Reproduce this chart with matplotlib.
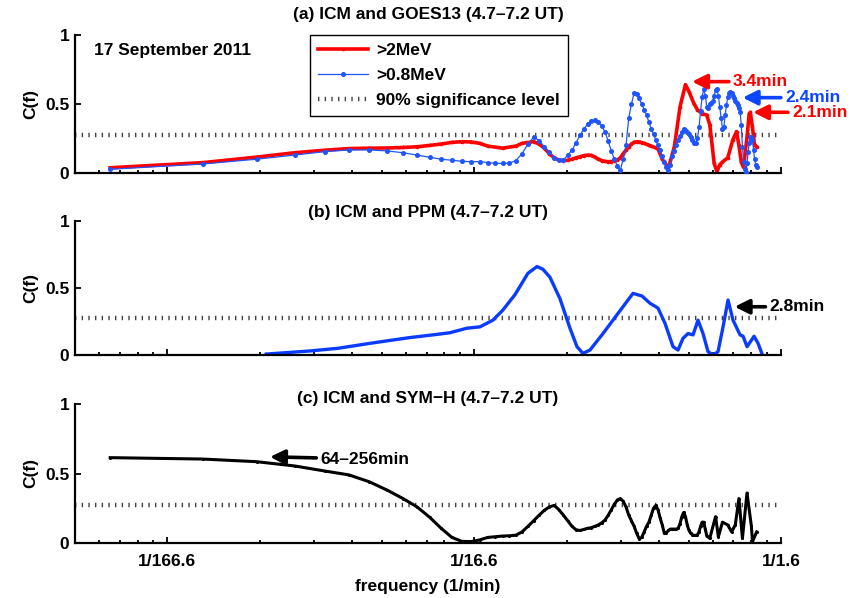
import matplotlib
matplotlib.use('Agg')
import matplotlib.pyplot as plt
from matplotlib.ticker import FixedLocator, FixedFormatter, LogLocator, NullFormatter
import numpy as np

plt.rcParams['font.family'] = ['Liberation Sans', 'DejaVu Sans']
plt.rcParams['font.weight'] = 'bold'
plt.rcParams['font.size'] = 12.5
plt.rcParams['lines.scale_dashes'] = False

# spectral bin width for GOES13 / SYM-H coherence (256-min window), Hz
DF_HZ = 1.0 / (256 * 60)

# ---------------- (a) ICM and GOES13 ----------------
a_red_bin = [1, 2, 3, 4, 5, 6, 7, 8, 9, 10, 11, 12, 13, 14, 15, 16, 17, 19, 21, 22,
             24, 25, 26, 27, 28, 29, 30, 31, 32, 33, 34, 35, 36, 37, 38, 39, 40, 41, 42, 43,
             44, 45, 46, 47, 48, 49, 50, 51, 52, 53, 54, 55, 56, 57, 58, 61, 63, 66, 69, 72,
             75, 77, 80, 82, 85, 88, 90, 91, 93, 95, 97, 99, 103, 107, 110, 112, 114, 116, 119, 121,
             122, 124, 126, 128]
a_red_c = [0.038, 0.075, 0.115, 0.147, 0.165, 0.177, 0.18, 0.181, 0.185, 0.19,
           0.2, 0.21, 0.222, 0.227, 0.225, 0.215, 0.195, 0.18, 0.195, 0.215,
           0.227, 0.21, 0.18, 0.14, 0.11, 0.094, 0.09, 0.092, 0.1, 0.11,
           0.118, 0.126, 0.13, 0.127, 0.116, 0.1, 0.09, 0.084, 0.082, 0.083,
           0.088, 0.095, 0.11, 0.14, 0.165, 0.19, 0.21, 0.222, 0.227, 0.226,
           0.22, 0.215, 0.208, 0.2, 0.195, 0.175, 0.1, 0.036, 0.19, 0.48,
           0.64, 0.59, 0.5, 0.46, 0.43, 0.42, 0.35, 0.26, 0.07, 0.01,
           0.06, 0.08, 0.11, 0.24, 0.3, 0.2, 0.08, 0.04, 0.26, 0.43,
           0.44, 0.33, 0.2, 0.19]

a_blue_bin = [1, 2, 3, 4, 5, 6, 7, 8, 9, 10, 11, 12, 13, 14, 15, 16, 17, 18, 19, 20,
              21, 22, 23, 24, 25, 26, 27, 28, 29, 30, 31, 32, 33, 34, 35, 36, 37, 38, 39, 40,
              41, 42, 43, 44, 45, 46, 47, 48, 49, 50, 51, 52, 53, 54, 55, 56, 57, 58, 59, 60,
              61, 62, 63, 64, 65, 66, 67, 68, 69, 70, 71, 72, 73, 74, 75, 76, 77, 78, 79, 80,
              81, 82, 83, 84, 85, 86, 87, 88, 89, 90, 91, 92, 93, 94, 95, 96, 97, 98, 99, 100,
              101, 102, 103, 104, 105, 106, 107, 108, 109, 110, 111, 112, 113, 114, 115, 116, 117, 118, 119, 120,
              121, 122, 123, 124, 125, 126, 127, 128]
a_blue_c = [0.027, 0.065, 0.10, 0.13, 0.155, 0.167, 0.167, 0.16, 0.147, 0.13,
            0.114, 0.10, 0.092, 0.085, 0.082, 0.082, 0.076, 0.07, 0.07, 0.072,
            0.09, 0.14, 0.21, 0.26, 0.235, 0.19, 0.15, 0.11, 0.094, 0.094,
            0.13, 0.165, 0.22, 0.275, 0.32, 0.355, 0.38, 0.385, 0.37, 0.34,
            0.30, 0.23, 0.16, 0.10, 0.05, 0.022, 0.10, 0.20, 0.40, 0.50,
            0.58, 0.57, 0.54, 0.50, 0.46, 0.42, 0.37, 0.32, 0.28, 0.24,
            0.20, 0.167, 0.12, 0.08, 0.045, 0.022, 0.06, 0.12, 0.16, 0.2,
            0.24, 0.27, 0.30, 0.32, 0.315, 0.30, 0.28, 0.26, 0.24, 0.215,
            0.22, 0.25, 0.33, 0.45, 0.55, 0.61, 0.56, 0.48, 0.47, 0.5,
            0.51, 0.52, 0.56, 0.6, 0.61, 0.56, 0.48, 0.4, 0.32, 0.33,
            0.42, 0.49, 0.55, 0.58, 0.59, 0.58, 0.56, 0.54, 0.52, 0.51,
            0.49, 0.47, 0.44, 0.35, 0.19, 0.08, 0.03, 0.005, 0.07, 0.15,
            0.22, 0.26, 0.26, 0.24, 0.17, 0.1, 0.06, 0.04]

# ---------------- (b) ICM and PPM ----------------
b_freq_mhz = [0.210, 0.291, 0.360, 0.457, 0.617, 0.733, 0.833, 0.947, 1.044, 1.151,
              1.241, 1.358, 1.497, 1.602, 1.675, 1.766, 1.904, 2.052, 2.163, 2.262,
              2.385, 2.629, 2.920, 3.293, 3.524, 3.742, 3.973, 4.188, 4.447, 4.617,
              4.794, 4.977, 5.168, 5.365, 5.570, 5.783, 6.005, 6.234, 6.473, 6.720,
              6.977, 7.355, 7.522, 7.751, 8.169, 8.419, 8.675]
b_c = [0.007, 0.03, 0.05, 0.087, 0.13, 0.15, 0.166, 0.2, 0.21, 0.26,
       0.336, 0.45, 0.61, 0.66, 0.64, 0.58, 0.42, 0.2, 0.062, 0.012,
       0.037, 0.16, 0.3, 0.46, 0.44, 0.386, 0.35, 0.236, 0.062, 0.037,
       0.125, 0.16, 0.15, 0.26, 0.16, 0.025, 0.0, 0.025, 0.21, 0.41,
       0.26, 0.15, 0.14, 0.062, 0.14, 0.087, 0.007]

# ---------------- (c) ICM and SYM-H ----------------
c_bin = [1, 2, 3, 4, 5, 6, 7, 8, 9, 10, 11, 12, 13, 14, 15, 16, 17, 18, 19, 20,
         21, 22, 23, 24, 25, 26, 27, 28, 29, 30, 31, 32, 33, 34, 35, 36, 37, 38, 39, 40,
         41, 42, 43, 44, 45, 46, 47, 48, 49, 50, 51, 52, 53, 54, 55, 56, 57, 58, 59, 60,
         61, 62, 63, 64, 65, 66, 67, 68, 69, 70, 71, 72, 73, 74, 75, 76, 77, 78, 79, 80,
         81, 82, 83, 84, 85, 86, 87, 88, 90, 94, 96, 99, 103, 106, 109, 112, 115, 119, 123, 124,
         128]
c_c = [0.614, 0.604, 0.585, 0.554, 0.518, 0.49, 0.44, 0.38, 0.32, 0.26,
       0.185, 0.105, 0.04, 0.012, 0.01, 0.022, 0.04, 0.045, 0.05, 0.052,
       0.056, 0.08, 0.12, 0.16, 0.2, 0.235, 0.26, 0.27, 0.24, 0.2,
       0.16, 0.12, 0.095, 0.09, 0.098, 0.106, 0.11, 0.12, 0.13, 0.145,
       0.165, 0.2, 0.24, 0.28, 0.31, 0.32, 0.3, 0.26, 0.2, 0.16,
       0.12, 0.07, 0.03, 0.04, 0.08, 0.12, 0.15, 0.2, 0.25, 0.27,
       0.24, 0.18, 0.13, 0.07, 0.075, 0.09, 0.1, 0.1, 0.1, 0.1,
       0.106, 0.14, 0.19, 0.22, 0.19, 0.13, 0.09, 0.07, 0.06, 0.055,
       0.055, 0.058, 0.08, 0.12, 0.15, 0.15, 0.1, 0.05, 0.034, 0.19,
       0.045, 0.15, 0.13, 0.08, 0.13, 0.32, 0.034, 0.36, 0.12, 0.01,
       0.08]

SIG_LEVEL = 0.275
XLIM_HZ = (5e-5, 1e-2)
xtick_hz = [1e-4, 1e-3, 1e-2]
xtick_labels = ['1/166.6', '1/16.6', '1/1.6']
ytick_vals = [0, 0.5, 1]
ytick_labels = ['0', '0.5', '1']

titles = ['(a) ICM and GOES13 (4.7\u20137.2 UT)',
          '(b) ICM and PPM (4.7\u20137.2 UT)',
          '(c) ICM and SYM\u2212H (4.7\u20137.2 UT)']

RED = '#ff0000'
BLUE_A = '#1f55ff'
BLUE_B = '#0a3cff'
SIG_COLOR = '#444444'
SIG_STYLE = (0, (1.0, 3.8))

W, H = 852, 598
fig = plt.figure(figsize=(W / 100, H / 100), dpi=100)

def px_axes(x0, x1, y_top, y_bot):
    return fig.add_axes([x0 / W, 1 - y_bot / H, (x1 - x0) / W, (y_bot - y_top) / H])

ax_a = px_axes(75, 781, 35, 173)
ax_b = px_axes(75, 781, 221, 355)
ax_c = px_axes(75, 781, 404, 543)

sig_lines = []
for ax in (ax_a, ax_b, ax_c):
    ax.set_xscale('log')
    ax.set_xlim(*XLIM_HZ)
    ax.set_ylim(0, 1)
    ax.xaxis.set_major_locator(FixedLocator(xtick_hz))
    ax.xaxis.set_major_formatter(FixedFormatter(xtick_labels))
    ax.xaxis.set_minor_locator(LogLocator(base=10, subs=np.arange(2, 10), numticks=20))
    ax.xaxis.set_minor_formatter(NullFormatter())
    ax.yaxis.set_major_locator(FixedLocator(ytick_vals))
    ax.yaxis.set_major_formatter(FixedFormatter(ytick_labels))
    for s in ('top', 'right'):
        ax.spines[s].set_visible(False)
    for s in ('left', 'bottom'):
        ax.spines[s].set_linewidth(1.6)
    ax.tick_params(which='both', direction='in', width=1.3, top=False, right=False)
    ax.tick_params(which='major', length=4)
    ax.tick_params(axis='y', which='major', pad=4)
    ax.tick_params(axis='x', which='major', pad=8)
    ax.tick_params(which='minor', length=2.5)
    ax.set_ylabel('C(f)', fontweight='bold', labelpad=5)
    sl, = ax.plot(XLIM_HZ, [SIG_LEVEL, SIG_LEVEL], color=SIG_COLOR, lw=3.2,
                  linestyle=SIG_STYLE, solid_capstyle='butt', dash_capstyle='butt',
                  label='90% significance level', zorder=1)
    sig_lines.append(sl)

ax_a.tick_params(labelbottom=False)
ax_b.tick_params(labelbottom=False)

# (a)
red_f = np.array(a_red_bin) * DF_HZ
blue_f = np.array(a_blue_bin) * DF_HZ
l_red, = ax_a.plot(red_f, a_red_c, color=RED, lw=2.6, marker='o', ms=1.6,
                   label='>2MeV', zorder=2)
l_blue, = ax_a.plot(blue_f, a_blue_c, color=BLUE_A, lw=0.9, marker='o', ms=2.6,
                    label='>0.8MeV', zorder=3)
leg = ax_a.legend(handles=[l_red, l_blue, sig_lines[0]], loc='upper left',
                  bbox_to_anchor=(310 / W, 1 - 35 / H), bbox_transform=fig.transFigure,
                  frameon=True, fancybox=False, edgecolor='black', framealpha=1,
                  borderaxespad=0, handlelength=2.9, handletextpad=0.45,
                  labelspacing=0.58, borderpad=0.45, fontsize=12.5)
leg.get_frame().set_linewidth(1.0)
ax_a.text(0.027, 0.89, '17 September 2011', transform=ax_a.transAxes,
          ha='left', va='center', fontsize=12.5, fontweight='bold')

# (b)
ax_b.plot(np.array(b_freq_mhz) * 1e-3, b_c, color=BLUE_B, lw=2.4, zorder=2)

# (c)
ax_c.plot(np.array(c_bin) * DF_HZ, c_c, color='black', lw=2.2, marker='o', ms=1.2, zorder=2)
ax_c.set_xlabel('frequency (1/min)', fontweight='bold', labelpad=7)

def arrow_label(ax, text, tip, text_pos, color):
    ax.annotate(text, xy=tip, xytext=text_pos, color=color, fontsize=12.5,
                fontweight='bold', ha='left', va='center', annotation_clip=False,
                arrowprops=dict(arrowstyle='-|>', color=color, lw=2.6,
                                mutation_scale=22, shrinkA=1, shrinkB=0))

arrow_label(ax_a, '3.4min', (5.13e-3, 0.662), (6.98e-3, 0.662), RED)
arrow_label(ax_a, '2.4min', (7.50e-3, 0.546), (1.031e-2, 0.546), '#0a46ff')
arrow_label(ax_a, '2.1min', (8.11e-3, 0.44), (1.087e-2, 0.44), RED)
arrow_label(ax_b, '2.8min', (7.06e-3, 0.36), (9.18e-3, 0.36), 'black')
arrow_label(ax_c, '64\u2013256min', (2.16e-4, 0.62), (3.155e-4, 0.604), 'black')

title_y_px = [15, 212, 399]
for t, ypx in zip(titles, title_y_px):
    fig.text(428 / W, 1 - ypx / H, t, ha='center', va='center',
             fontsize=12.5, fontweight='bold')

fig.savefig('out.png', dpi=100)
